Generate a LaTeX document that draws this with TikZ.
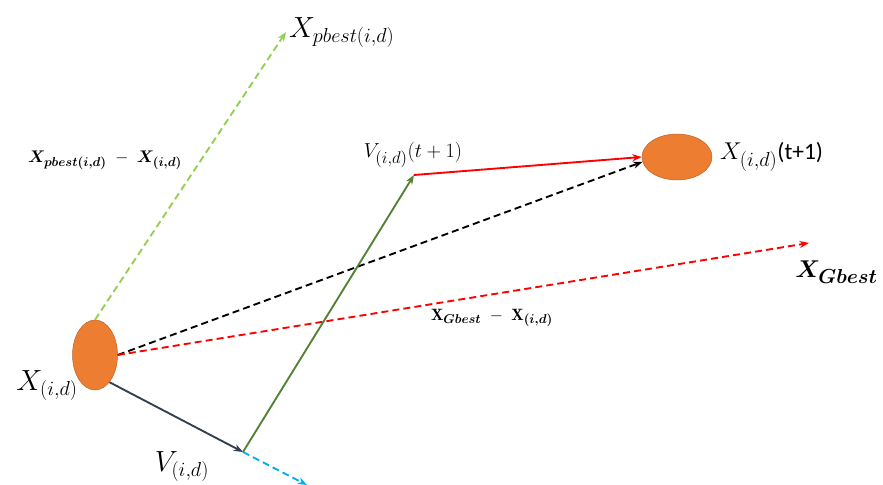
\documentclass[tikz,border=0pt]{standalone}
\usepackage{xcolor}
\usepackage{amsmath}
\usepackage{bm}
\usepackage{fontspec}
\newfontfamily\calib{Carlito}
\usetikzlibrary{shapes.geometric,arrows.meta}

\DeclareMathSizes{24}{24}{19}{15}
\DeclareMathSizes{19}{19}{15}{12}
\DeclareMathSizes{20}{20}{16}{12}
\DeclareMathSizes{14}{14}{11}{9}

\definecolor{pso orange}{HTML}{ED7D31}
\definecolor{pso border}{HTML}{B5622A}
\definecolor{pso lime}{HTML}{92D050}
\definecolor{pso green}{HTML}{548235}
\definecolor{pso navy}{HTML}{333F50}
\definecolor{pso cyan}{HTML}{00B0F0}

\tikzset{
  particle/.style={draw=pso border, ellipse, fill=pso orange, inner sep=0pt},
  vecline/.style={line width=1.6pt, -{Stealth[length=8pt,width=6pt]}},
  vecdash/.style={vecline, dash pattern=on 6pt off 3.5pt},
  lbl/.style={inner sep=0pt}
}

\begin{document}
\begin{tikzpicture}[x=0.03cm,y=-0.03cm]
\useasboundingbox (0,0) rectangle (883,485);
\node[particle, minimum width=1.35cm, minimum height=2.1cm] (xid) at (95,355) {};
\node[particle, minimum width=2.1cm, minimum height=1.38cm] (xnext) at (677,157) {};
\coordinate (pbest) at (286,32);
\coordinate (gbest) at (809,243);
\coordinate (vtip) at (243,452);
\coordinate (vnext) at (414,175);
\coordinate (cyanend) at (307,485);
\node[lbl, anchor=west, font=\fontsize{24}{28}\selectfont] (pbestlbl) at (289,33) {$X_{pbest(i,d)}$};
\node[lbl, font=\fontsize{14}{17}\selectfont] (pbestdiff) at (105,160) {$\bm{X_{pbest(i,d)}}\;-\;\bm{X_{(i,d)}}$};
\node[lbl, font=\fontsize{19}{22}\selectfont] (vnextlbl) at (413,155) {$V_{(i,d)}(t+1)$};
\node[lbl, anchor=west, font=\fontsize{20}{24}\selectfont] (xnextlbl) at (720,157) {$X_{(i,d)}${\calib (t+1)}};
\node[lbl, anchor=east, font=\fontsize{20}{24}\selectfont] (gbestlbl) at (878,272) {$\bm{X_{Gbest}}$};
\node[lbl, font=\fontsize{14}{17}\selectfont] (gbestdiff) at (492,318) {$\mathbf{X}_{\bm{Gbest}}\;-\;\mathbf{X}_{\bm{(i,d)}}$};
\node[lbl, font=\fontsize{24}{28}\selectfont] (xidlbl) at (47,386) {$X_{(i,d)}$};
\node[lbl, font=\fontsize{24}{28}\selectfont] (vidlbl) at (182,467) {$V_{(i,d)}$};
\draw[vecdash, pso lime] (xid.north) -- (pbest);
\draw[vecdash, black] (xid.east) -- (xnext.188);
\draw[vecdash, red] (xid.east) -- (gbest);
\draw[vecdash, pso cyan] (vtip) -- (cyanend);
\draw[vecline, pso navy] (xid.-62) -- (vtip);
\draw[vecline, pso green] (vtip) -- (vnext);
\draw[vecline, red] (vnext) -- (xnext.west);
\end{tikzpicture}
\end{document}
